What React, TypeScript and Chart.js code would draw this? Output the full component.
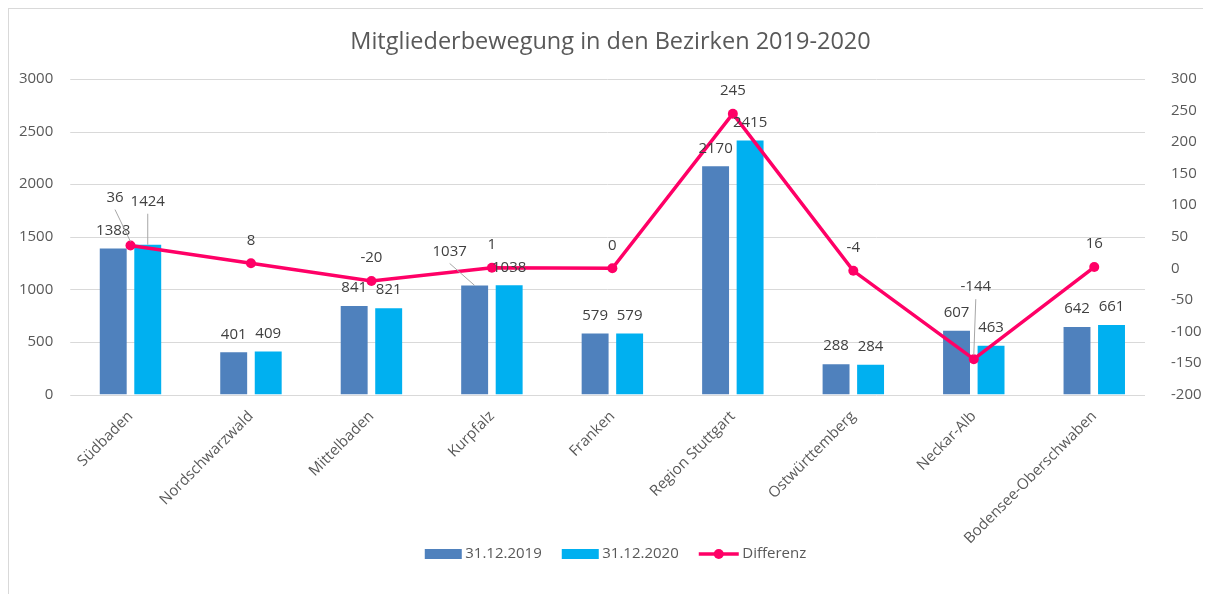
import { useEffect, useRef } from 'react';
import { Chart, registerables } from 'chart.js';

Chart.register(...registerables);

const categories = [
  'Südbaden',
  'Nordschwarzwald',
  'Mittelbaden',
  'Kurpfalz',
  'Franken',
  'Region Stuttgart',
  'Ostwürttemberg',
  'Neckar-Alb',
  'Bodensee-Oberschwaben',
];
const values2019 = [1388, 401, 841, 1037, 579, 2170, 288, 607, 642];
const values2020 = [1424, 409, 821, 1038, 579, 2415, 284, 463, 661];
const differenz = [36, 8, -20, 1, 0, 245, -4, -144, 2];
const differenzLabels = ['36', '8', '-20', '1', '0', '245', '-4', '-144', '16'];
const leftTicks = [0, 500, 1000, 1500, 2000, 2500, 3000];
const rightTicks = [-200, -150, -100, -50, 0, 50, 100, 150, 200, 250, 300];
const seriesNames = ['31.12.2019', '31.12.2020', 'Differenz'];

const FONT = "'Open Sans', sans-serif";
const AXIS_COLOR = '#595959';
const LABEL_COLOR = '#404040';
const GRID_COLOR = '#d9d9d9';
const COLOR_2019 = '#4F81BD';
const COLOR_2020 = '#00B0F0';
const COLOR_DIFF = '#FF0066';

// label position adjustments (dataset index - category index): [dx, dy]
const labelAdjust: Record<string, [number, number]> = {
  '1-0': [0, -25],
  '2-0': [-15.5, -25],
  '0-3': [-25, -16],
  '2-7': [2, -49],
};

const gridPlugin = {
  id: 'customGrid',
  beforeDatasetsDraw(chart: any) {
    const { ctx, chartArea, scales } = chart;
    const y = scales.y;
    ctx.save();
    ctx.strokeStyle = GRID_COLOR;
    ctx.lineWidth = 1;
    leftTicks.forEach((v) => {
      const py = Math.round(y.getPixelForValue(v)) + 0.5;
      ctx.beginPath();
      ctx.moveTo(chartArea.left, py);
      ctx.lineTo(chartArea.right - 9.5, py);
      ctx.stroke();
    });
    ctx.restore();
  },
};

const labelsPlugin = {
  id: 'dataLabels',
  afterDatasetsDraw(chart: any) {
    const { ctx } = chart;
    ctx.save();
    ctx.font = `15px ${FONT}`;
    ctx.fillStyle = LABEL_COLOR;
    ctx.textAlign = 'center';
    ctx.textBaseline = 'middle';
    chart.data.datasets.forEach((ds: any, di: number) => {
      const meta = chart.getDatasetMeta(di);
      meta.data.forEach((el: any, i: number) => {
        const isLine = ds.type === 'line';
        const text = isLine ? differenzLabels[i] : String(ds.data[i]);
        const adj = labelAdjust[`${di}-${i}`];
        const dx = adj ? adj[0] : 0;
        const dy = adj ? adj[1] : 0;
        const lx = el.x + dx;
        const ly = el.y - (isLine ? 23 : 18) + dy;
        if (adj) {
          ctx.save();
          ctx.strokeStyle = '#a6a6a6';
          ctx.lineWidth = 1;
          ctx.beginPath();
          ctx.moveTo(lx, ly + 12);
          ctx.lineTo(el.x, el.y - (isLine ? 4 : 0));
          ctx.stroke();
          ctx.restore();
        }
        ctx.fillText(text, lx, ly);
      });
    });
    ctx.restore();
  },
};

const legendPlugin = {
  id: 'customLegend',
  afterDraw(chart: any) {
    const { ctx } = chart;
    ctx.save();
    ctx.font = `15px ${FONT}`;
    ctx.textBaseline = 'middle';
    ctx.textAlign = 'left';
    const cy = 545;
    const boxW = 37;
    const gap = 3.5;
    const spacing = 20;
    const widths = seriesNames.map((n) => ctx.measureText(n).width);
    const symW = [boxW, boxW, 40];
    let total = 0;
    widths.forEach((w, i) => {
      total += symW[i] + gap + w + (i < widths.length - 1 ? spacing : 0);
    });
    let x = 606.5 - total / 2;
    seriesNames.forEach((name, i) => {
      if (i < 2) {
        ctx.fillStyle = i === 0 ? COLOR_2019 : COLOR_2020;
        ctx.fillRect(x, cy - 5, boxW, 10);
      } else {
        ctx.strokeStyle = COLOR_DIFF;
        ctx.lineWidth = 3.5;
        ctx.beginPath();
        ctx.moveTo(x, cy);
        ctx.lineTo(x + 40, cy);
        ctx.stroke();
        ctx.fillStyle = COLOR_DIFF;
        ctx.beginPath();
        ctx.arc(x + 20, cy, 5, 0, Math.PI * 2);
        ctx.fill();
      }
      x += symW[i] + gap;
      ctx.fillStyle = AXIS_COLOR;
      ctx.fillText(name, x, cy);
      x += widths[i] + spacing;
    });
    ctx.restore();
  },
};

export default function App() {
  const canvasRef = useRef<HTMLCanvasElement | null>(null);

  useEffect(() => {
    const canvas = canvasRef.current;
    if (!canvas) return;
    const chart = new Chart(canvas, {
      type: 'bar',
      data: {
        labels: categories,
        datasets: [
          {
            type: 'bar',
            label: seriesNames[0],
            data: values2019,
            backgroundColor: COLOR_2019,
            yAxisID: 'y',
            order: 2,
            barPercentage: 0.78,
            categoryPercentage: 0.573,
          },
          {
            type: 'bar',
            label: seriesNames[1],
            data: values2020,
            backgroundColor: COLOR_2020,
            yAxisID: 'y',
            order: 2,
            barPercentage: 0.78,
            categoryPercentage: 0.573,
          },
          {
            type: 'line',
            label: seriesNames[2],
            data: differenz,
            borderColor: COLOR_DIFF,
            backgroundColor: COLOR_DIFF,
            pointBackgroundColor: COLOR_DIFF,
            pointBorderColor: COLOR_DIFF,
            pointBorderWidth: 0,
            pointRadius: 5,
            borderWidth: 3.5,
            tension: 0,
            yAxisID: 'y1',
            order: 1,
          },
        ] as any,
      },
      options: {
        responsive: false,
        animation: false,
        devicePixelRatio: 1,
        layout: { padding: { left: 9, top: 0, right: 0, bottom: 0 } },
        plugins: {
          legend: { display: false },
          tooltip: { enabled: false },
          title: {
            display: true,
            text: 'Mitgliederbewegung in den Bezirken 2019-2020',
            color: AXIS_COLOR,
            font: { family: FONT, size: 23.5, weight: 'normal' as any, lineHeight: 1.2 },
            padding: { top: 18.9, bottom: 22.9 },
          },
        },
        scales: {
          x: {
            type: 'category',
            offset: true,
            grid: { display: false, drawTicks: false },
            border: { display: false },
            ticks: {
              color: AXIS_COLOR,
              font: { family: FONT, size: 15 },
              maxRotation: 45,
              minRotation: 45,
              padding: 13,
              autoSkip: false,
            },
            afterFit: (s: any) => {
              s.height = 198.5;
            },
          },
          y: {
            position: 'left',
            min: leftTicks[0],
            max: leftTicks[leftTicks.length - 1],
            grid: { display: false, drawTicks: false },
            border: { display: false },
            ticks: {
              stepSize: leftTicks[1] - leftTicks[0],
              color: AXIS_COLOR,
              font: { family: FONT, size: 15 },
              padding: 17,
              callback: (v: any) => String(v),
            },
            afterFit: (s: any) => {
              s.width = 52.25;
            },
          },
          y1: {
            position: 'right',
            min: rightTicks[0],
            max: rightTicks[rightTicks.length - 1],
            grid: { display: false, drawTicks: false },
            border: { display: false },
            ticks: {
              stepSize: rightTicks[1] - rightTicks[0],
              color: AXIS_COLOR,
              font: { family: FONT, size: 15 },
              padding: 16.5,
              callback: (v: any) => String(v),
            },
            afterFit: (s: any) => {
              s.width = 48.5;
            },
          },
        },
      } as any,
      plugins: [gridPlugin, labelsPlugin, legendPlugin],
    });
    return () => chart.destroy();
  }, []);

  return (
    <div
      style={{
        width: 1195,
        height: 585,
        borderTop: '1px solid #d9d9d9',
        borderLeft: '1px solid #d9d9d9',
        background: '#fff',
      }}
    >
      <canvas ref={canvasRef} width={1194} height={584} style={{ display: 'block' }} />
    </div>
  );
}
